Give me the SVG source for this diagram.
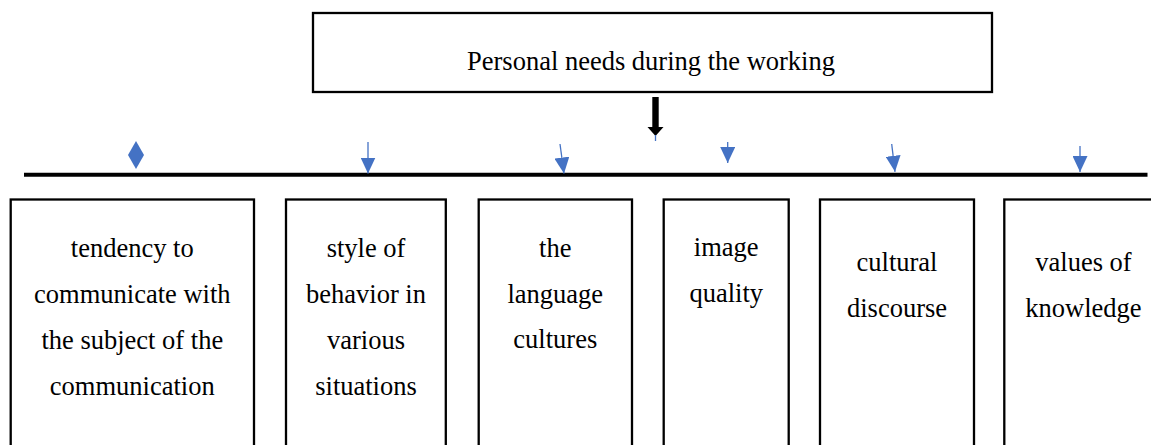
<svg xmlns="http://www.w3.org/2000/svg" width="1151" height="445" viewBox="0 0 1151 445">
<style>
  .box { fill: #ffffff; stroke: #000000; stroke-width: 2.3; }
  .lbl { font-family: "Liberation Serif", "Times New Roman", serif; font-size: 26.5px; fill: #000000; text-anchor: middle; }
  .blue { stroke: #4472C4; stroke-width: 1.3; fill: none; }
</style>
<defs>
  <marker id="bh" markerUnits="userSpaceOnUse" markerWidth="16" markerHeight="15" refX="16" refY="7.5" orient="auto">
    <path d="M0,0 L16,7.5 L0,15 Z" fill="#4472C4"/>
  </marker>
</defs>
<rect width="1151" height="445" fill="#ffffff"/>

<g id="node-top">
  <rect class="box" x="313" y="13" width="679" height="79"/>
  <text class="lbl" x="651" y="70">Personal needs during the working</text>
</g>

<g id="connectors">
  <polygon points="652.3,97 658.7,97 658.7,127 663.5,127 655.5,136 647.5,127 652.3,127" fill="#000000"/>
  <line class="blue" x1="655.5" y1="135" x2="655.5" y2="141"/>
  <line x1="24" y1="174.7" x2="1147.5" y2="174.7" stroke="#000000" stroke-width="4"/>
  <polygon points="136,141 144,155 136,169 128,155" fill="#4472C4"/>
  <line class="blue" x1="368" y1="142" x2="368" y2="173.5" marker-end="url(#bh)"/>
  <line class="blue" x1="560" y1="144" x2="564" y2="173.5" marker-end="url(#bh)"/>
  <line class="blue" x1="727.7" y1="142" x2="727.7" y2="163" marker-end="url(#bh)"/>
  <line class="blue" x1="891.7" y1="144" x2="895" y2="171.8" marker-end="url(#bh)"/>
  <line class="blue" x1="1080" y1="146" x2="1080" y2="172" marker-end="url(#bh)"/>
</g>

<g id="node-1">
  <rect class="box" x="10.7" y="199.5" width="243.3" height="270"/>
  <text class="lbl" x="132.3" y="256.5">tendency to</text>
  <text class="lbl" x="132.3" y="302.5">communicate with</text>
  <text class="lbl" x="132.3" y="348.7">the subject of the</text>
  <text class="lbl" x="132.3" y="394.6">communication</text>
</g>

<g id="node-2">
  <rect class="box" x="286" y="199.5" width="159.8" height="270"/>
  <text class="lbl" x="366" y="256.5">style of</text>
  <text class="lbl" x="366" y="302.5">behavior in</text>
  <text class="lbl" x="366" y="348.7">various</text>
  <text class="lbl" x="366" y="394.6">situations</text>
</g>

<g id="node-3">
  <rect class="box" x="478.7" y="199.5" width="153.3" height="270"/>
  <text class="lbl" x="555.3" y="256.5">the</text>
  <text class="lbl" x="555.3" y="302.5">language</text>
  <text class="lbl" x="555.3" y="348.4">cultures</text>
</g>

<g id="node-4">
  <rect class="box" x="663.7" y="199.5" width="125" height="270"/>
  <text class="lbl" x="726.2" y="256">image</text>
  <text class="lbl" x="726.2" y="301.8">quality</text>
</g>

<g id="node-5">
  <rect class="box" x="820" y="199.5" width="154" height="270"/>
  <text class="lbl" x="897" y="270.7">cultural</text>
  <text class="lbl" x="897" y="316.7">discourse</text>
</g>

<g id="node-6">
  <rect class="box" x="1004.3" y="199.5" width="170" height="270"/>
  <text class="lbl" x="1083.5" y="270.7">values of</text>
  <text class="lbl" x="1083.5" y="316.7">knowledge</text>
</g>
</svg>
